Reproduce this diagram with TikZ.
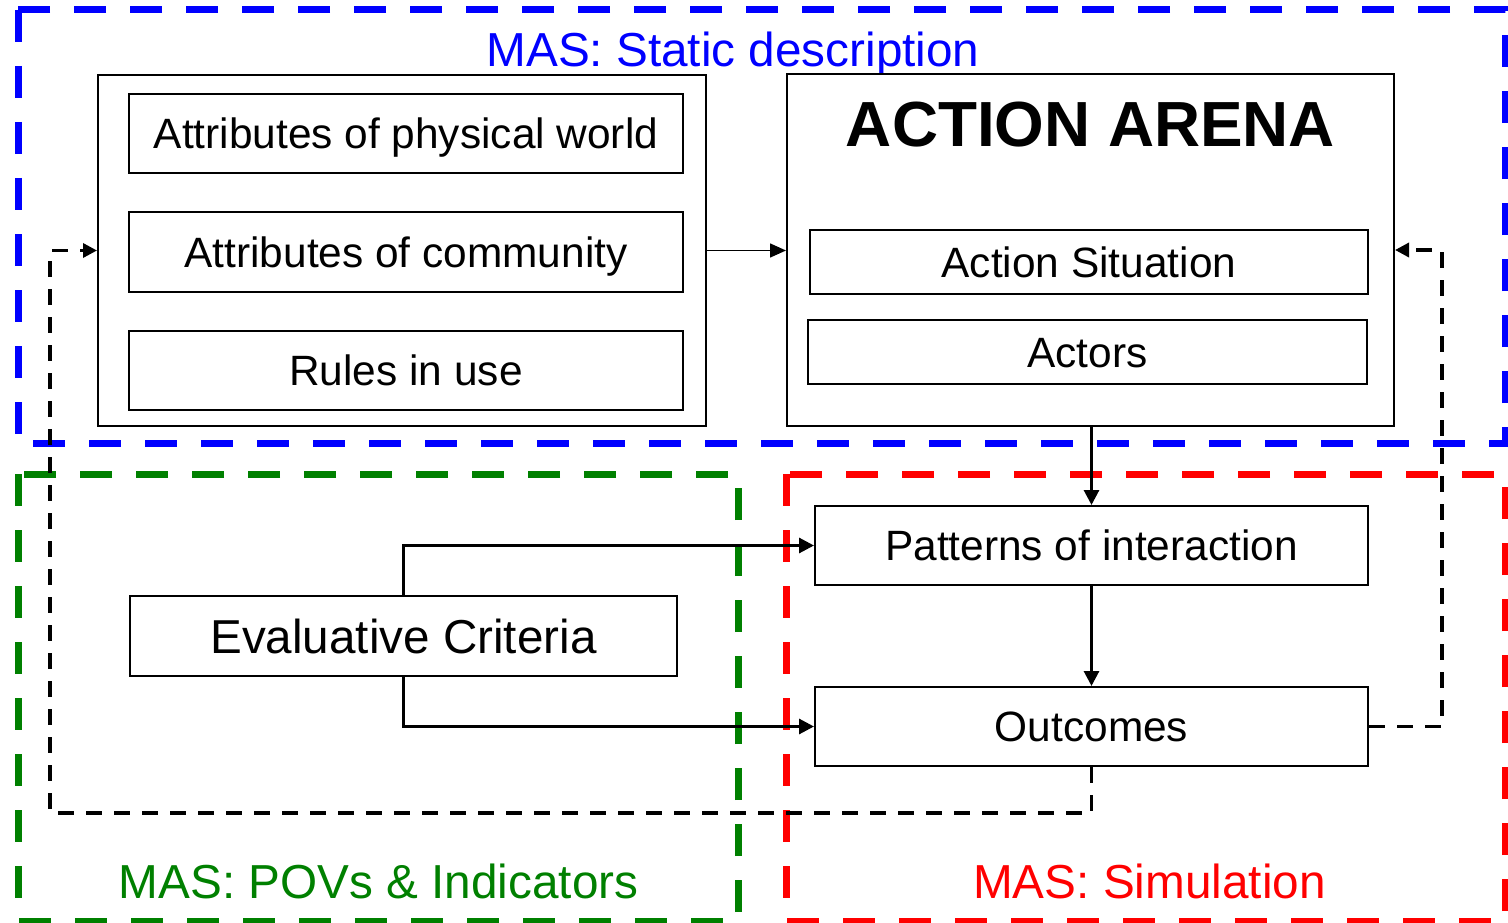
\documentclass[tikz,border=0pt]{standalone}
\usepackage{fontspec}
\setmainfont{Liberation Sans}
\usetikzlibrary{arrows.meta,calc}
\definecolor{masblue}{RGB}{0,0,255}
\definecolor{masgreen}{RGB}{0,128,0}
\definecolor{masred}{RGB}{255,0,0}
\tikzset{
  frame/.style={line width=7pt, dash pattern=on 32pt off 24pt},
  outerbox/.style={draw, line width=2pt, fill=white, inner sep=0pt},
  boxtext/.style={draw, line width=2pt, fill=white, inner sep=0pt,
    font=\fontsize{42.4}{50}\selectfont, text height=30.4pt, text depth=0pt},
  bigtext/.style={draw, line width=2pt, fill=white, inner sep=0pt,
    font=\fontsize{47.6}{55}\selectfont, text height=34pt, text depth=0pt},
  framelabel/.style={anchor=base, inner sep=0pt, font=\fontsize{47.7}{55}\selectfont},
  thinarrow/.style={line width=1.5pt, -{Triangle[length=16pt,width=14pt]}},
  thickarrow/.style={line width=3pt, -{Triangle[length=15pt,width=15pt]}},
  feedback/.style={line width=3.3pt, dash pattern=on 16pt off 12pt, -{Triangle[length=14pt,width=14pt]}}
}
\begin{document}
\begin{tikzpicture}[x=1pt,y=-1pt]
\useasboundingbox (0,0) rectangle (1508,923);
% frames
\draw[frame, masblue] (18,10) rectangle (1505,443);
\draw[frame, masgreen] (18,474) rectangle (738,921);
\draw[frame, masred] (786,474) rectangle (1505,921);
% frame labels
\node[framelabel, text=masblue] (lblue) at (733,67) {MAS: Static description};
\node[framelabel, text=masgreen] (lgreen) at (378.5,898) {MAS: POVs \& Indicators};
\node[framelabel, text=masred] (lred) at (1149.5,898) {MAS: Simulation};
% left group
\node[outerbox, minimum width=608pt, minimum height=351pt] (outerL) at (402,250.5) {};
\node[boxtext, minimum width=554pt, minimum height=79pt] (phys) at (406,133.5) {Attributes of physical world};
\node[boxtext, minimum width=554pt, minimum height=80pt] (comm) at (406,252) {Attributes of community};
\node[boxtext, minimum width=554pt, minimum height=79pt] (rules) at (406,370.5) {Rules in use};
% action arena
\node[outerbox, minimum width=607pt, minimum height=352pt] (arena) at (1090.5,250) {};
\node[anchor=base, inner sep=0pt, font=\fontsize{63.8}{72}\selectfont\bfseries] (arenatitle) at (1090.5,147) {ACTION ARENA};
\node[boxtext, minimum width=558pt, minimum height=64pt] (sit) at (1089,262) {Action Situation};
\node[boxtext, minimum width=559pt, minimum height=64pt] (actors) at (1087.5,352) {Actors};
% simulation
\node[boxtext, minimum width=553pt, minimum height=79pt] (patt) at (1091.5,545.5) {Patterns of interaction};
\node[boxtext, minimum width=553pt, minimum height=79pt] (outc) at (1091.5,726.5) {Outcomes};
% evaluative
\node[bigtext, minimum width=547pt, minimum height=80pt] (eval) at (403.5,636) {Evaluative Criteria};
% connectors
\draw[thinarrow] (outerL.east) -- (outerL.east -| arena.west);
\draw[thickarrow] (patt.north |- arena.south) -- (patt.north);
\draw[thickarrow] (patt.south) -- (outc.north);
\draw[thickarrow] (eval.north) |- (patt.west);
\draw[thickarrow] (eval.south) |- (outc.west);
\coordinate (dl) at (50,813);
\coordinate (dr) at (1442,250);
\draw[feedback] (outc.south) |- (dl) |- (outerL.west);
\draw[feedback] (outc.east) -| (dr) -- (dr -| arena.east);
\end{tikzpicture}
\end{document}
